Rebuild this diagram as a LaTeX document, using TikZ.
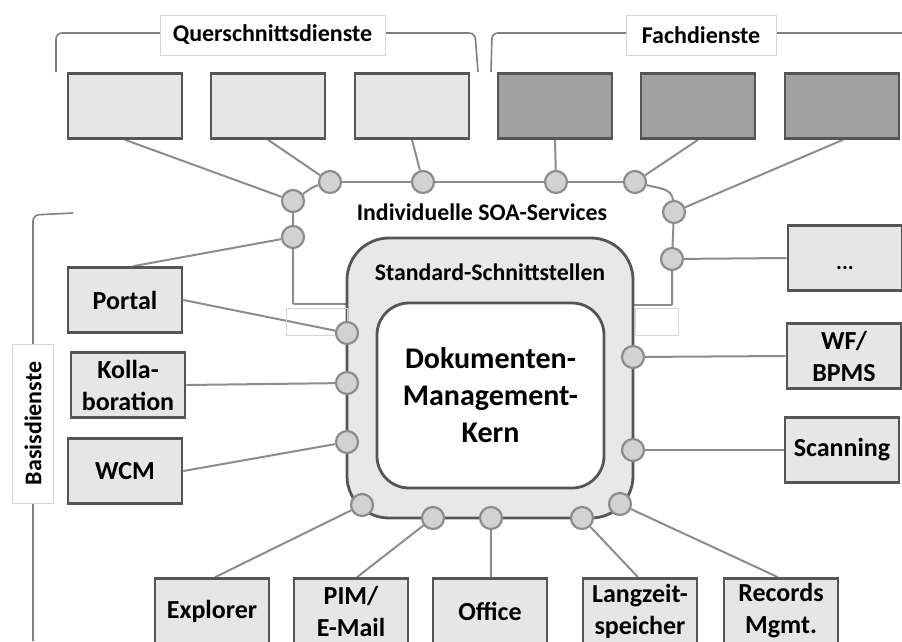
\documentclass[tikz,border=0pt]{standalone}
\usepackage{fontspec}
\setmainfont{Carlito}
\usetikzlibrary{backgrounds}

\definecolor{boxfill}{HTML}{E6E6E6}
\definecolor{darkfill}{HTML}{A0A0A0}
\definecolor{boxline}{HTML}{555555}
\definecolor{portfill}{HTML}{D2D2D2}
\definecolor{portline}{HTML}{8C8C8C}
\definecolor{wire}{HTML}{8C8C8C}
\definecolor{bracket}{HTML}{808080}
\definecolor{tagline}{HTML}{D6D6D6}
\definecolor{corefill}{HTML}{E8E8E8}

\begin{document}
\begin{tikzpicture}[x=1pt,y=-1pt,
  svc/.style={draw=boxline, line width=2.6pt, fill=boxfill,
    minimum width=114pt, minimum height=65pt, inner sep=0pt, align=center,
    font=\fontsize{26}{32}\bfseries\selectfont},
  fachsvc/.style={svc, fill=darkfill},
  port/.style={circle, draw=portline, fill=portfill, line width=2.2pt,
    minimum size=22pt, inner sep=0pt},
  wireline/.style={draw=wire, line width=2pt},
  brack/.style={draw=bracket, line width=1.6pt, rounded corners=6pt},
  tag/.style={draw=tagline, fill=white, line width=1pt, inner sep=0pt,
    font=\fontsize{24}{28}\bfseries\selectfont},
  heading/.style={font=\fontsize{23.8}{28}\bfseries\selectfont, inner sep=0pt},
  ghost/.style={draw=tagline, line width=0.8pt, inner sep=0pt}
]
\useasboundingbox (0,0) rectangle (902,641);

% --- service boxes across the top ---
\node[svc] (q1) at (125,106) {};
\node[svc] (q2) at (268,106) {};
\node[svc] (q3) at (412,106) {};
\node[fachsvc] (f1) at (555,106) {};
\node[fachsvc] (f2) at (698,106) {};
\node[fachsvc] (f3) at (842,106) {};

% --- core: standard interfaces around the DMS kernel ---
\node[draw=boxline, line width=2.8pt, fill=corefill, rounded corners=42pt,
      minimum width=286pt, minimum height=280pt] (core) at (490,378) {};
\node[draw=boxline, line width=2.8pt, fill=white, rounded corners=32pt,
      minimum width=227pt, minimum height=185pt, align=center,
      font=\fontsize{30}{37}\bfseries\selectfont] (kern) at (490.5,395.5)
      {Dokumenten-\\Management-\\Kern};
\node[heading] (std) at (490,272) {Standard-Schnittstellen};
\node[heading] (soa) at (482,212) {Individuelle SOA-Services};

% faint frames beside the core
\node[ghost, minimum width=61pt, minimum height=27pt] (gl) at (316.5,321.5) {};
\node[ghost, minimum width=43pt, minimum height=27pt] (gr) at (656.5,321.5) {};

% --- base services ---
\node[svc] (portal) at (125,300) {Portal};
\node[svc] (kolla) at (128,385) {Kolla-\\boration};
\node[svc] (wcm) at (125,471) {WCM};
\node[svc] (dots) at (845,258) {};
\node[font=\fontsize{22}{26}\bfseries\selectfont, inner sep=0pt] (dotstext) at (845,268) {...};
\node[svc] (wf) at (844,356) {WF/\\BPMS};
\node[svc] (scan) at (842,450) {Scanning};
\node[svc] (explorer) at (212,611) {Explorer};
\node[svc] (pim) at (351,611) {PIM/\\E-Mail};
\node[svc] (office) at (490,611) {Office};
\node[svc] (lzs) at (640,611) {Langzeit-\\speicher};
\node[svc] (rm) at (781,611) {Records\\Mgmt.};

% --- SOA ring ports ---
\node[port] (sa) at (293,237) {};
\node[port] (sb) at (293,201) {};
\node[port] (sc) at (330,182) {};
\node[port] (sd) at (423,182) {};
\node[port] (se) at (556,182) {};
\node[port] (sf) at (635,182) {};
\node[port] (sg) at (674,212) {};
\node[port] (sh) at (672,259) {};
\coordinate (lk) at (293,304);
\coordinate (rk) at (672,305);

% --- ports on the core ---
\node[port] (cl1) at (347,333) {};
\node[port] (cl2) at (347,383) {};
\node[port] (cl3) at (347,442) {};
\node[port] (cr1) at (633,357) {};
\node[port] (cr2) at (633,450) {};
\node[port] (cb1) at (362,505) {};
\node[port] (cb2) at (433,518) {};
\node[port] (cb3) at (491,518) {};
\node[port] (cb4) at (582,518) {};
\node[port] (cb5) at (620,504) {};

% --- group labels ---
\node[tag, minimum width=225pt, minimum height=40pt] (tq) at (272.5,35) {Querschnittsdienste};
\node[tag, minimum width=150pt, minimum height=40pt] (tf) at (701,35) {Fachdienste};
\node[tag, minimum width=159pt, minimum height=41pt, rotate=90] (tb) at (33,423.5) {Basisdienste};
\coordinate (qbl) at (56,72);
\coordinate (qbr) at (478,72);
\coordinate (fbl) at (491,72);
\coordinate (fbr) at (902,33);
\coordinate (bbt) at (73,213);
\coordinate (bbb) at (33,641);

\begin{scope}[on background layer]
  % brackets
  \draw[brack] (qbl) -- (56,33) -- (475,33) -- (qbr);
  \draw[brack] (fbl) -- (492,33) -- (fbr);
  \draw[brack] (bbt) -- (33,215) -- (bbb);

  % top services to the ring
  \draw[wireline] (q1.south) -- (sb);
  \draw[wireline] (q2.south) -- (sc);
  \draw[wireline] (q3.south) -- (sd);
  \draw[wireline] (f1.south) -- (se);
  \draw[wireline] (f2.south) -- (sf);
  \draw[wireline] ([xshift=1pt]f3.south) -- (sg);

  % the ring itself
  \draw[wireline] (lk) -- (sa) -- (sb);
  \draw[wireline] (sb) to[out=35,in=195] (sc);
  \draw[wireline] (sc) -- (sd) -- (se) -- (sf);
  \draw[wireline] (sf) to[out=-15,in=95] (sg);
  \draw[wireline] (sg) -- (sh) -- (rk);
  \draw[wireline] (lk) -- (core.west |- lk);
  \draw[wireline] (rk) -- (core.east |- rk);

  % side services
  \draw[wireline] ([xshift=8pt]portal.north) -- (sa);
  \draw[wireline] (dots.west) -- (sh);
  \draw[wireline] (portal.east) -- (cl1);
  \draw[wireline] (kolla.east) -- (cl2);
  \draw[wireline] (wcm.east) -- (cl3);
  \draw[wireline] (wf.west) -- (cr1);
  \draw[wireline] (scan.west) -- (cr2);

  % bottom services
  \draw[wireline] ([xshift=3pt]explorer.north) -- (cb1);
  \draw[wireline] ([xshift=6pt]pim.north) -- (cb2);
  \draw[wireline] ([xshift=1pt]office.north) -- (cb3);
  \draw[wireline] ([xshift=-2pt]lzs.north) -- (cb4);
  \draw[wireline] ([xshift=-3pt]rm.north) -- (cb5);
\end{scope}
\end{tikzpicture}
\end{document}
